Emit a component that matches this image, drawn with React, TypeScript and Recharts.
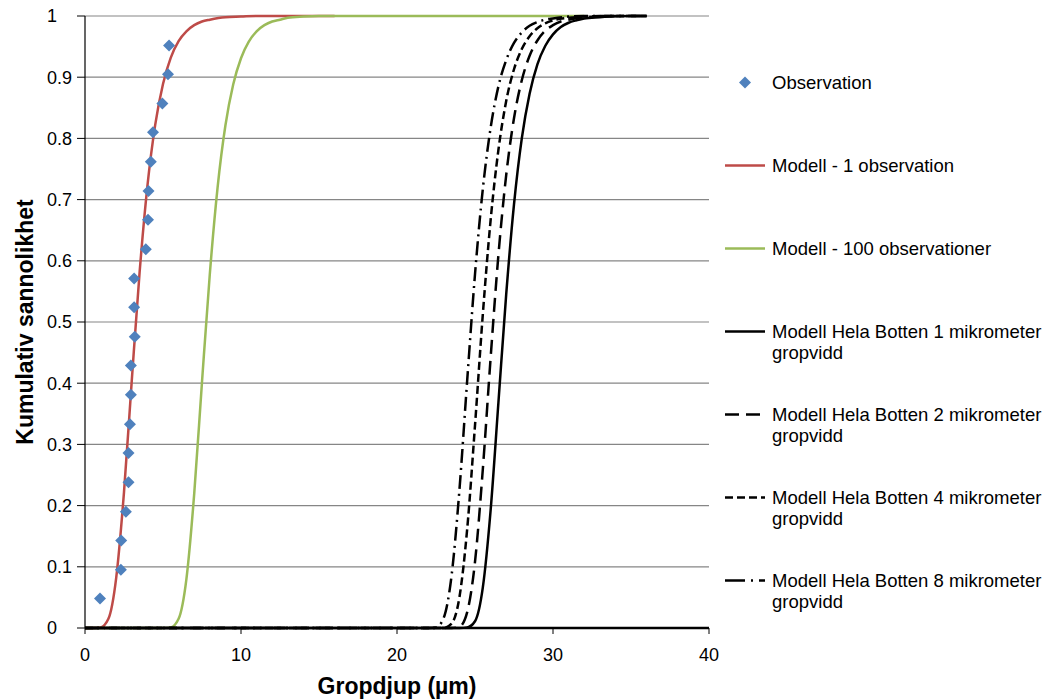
import {
  ComposedChart,
  Line,
  Scatter,
  XAxis,
  YAxis,
  CartesianGrid,
  Legend,
} from 'recharts';

// Observed pit depths (µm) and their cumulative probability
const obsDepth = [0.96, 2.3, 2.32, 2.62, 2.79, 2.79, 2.88, 2.94, 2.94, 3.19, 3.15, 3.15, 3.9, 4.04, 4.07, 4.22, 4.36, 4.96, 5.32, 5.39];
const obsProb = [0.048, 0.095, 0.143, 0.19, 0.238, 0.286, 0.333, 0.381, 0.429, 0.476, 0.524, 0.571, 0.619, 0.667, 0.714, 0.762, 0.81, 0.857, 0.905, 0.952];

// Modell - 1 observation
const m1Depth = [0, 0.5, 1, 1.5, 2, 2.5, 3, 3.5, 4, 4.5, 5, 5.5, 6, 6.5, 7, 7.5, 8, 9, 10, 11, 12, 16];
const m1Prob = [0, 0, 0.001, 0.015, 0.082, 0.222, 0.405, 0.581, 0.722, 0.822, 0.889, 0.932, 0.959, 0.975, 0.985, 0.991, 0.994, 0.998, 0.999, 1, 1, 1];

// Modell - 100 observationer
const m100Depth = [0, 5, 5.5, 6, 6.5, 7, 7.5, 8, 8.5, 9, 9.5, 10, 10.5, 11, 11.5, 12, 12.5, 13, 14, 15, 32];
const m100Prob = [0, 0, 0.001, 0.015, 0.08, 0.219, 0.402, 0.578, 0.72, 0.821, 0.888, 0.931, 0.958, 0.975, 0.985, 0.991, 0.994, 0.997, 0.999, 1, 1];

// Modell Hela Botten, 1 / 2 / 4 / 8 mikrometer gropvidd
const hb1Depth = [0, 24, 24.5, 25, 25.5, 26, 26.5, 27, 27.5, 28, 28.5, 29, 29.5, 30, 30.5, 31, 31.5, 32, 33, 34, 35, 36];
const hb1Prob = [0, 0, 0.001, 0.011, 0.066, 0.192, 0.368, 0.545, 0.692, 0.8, 0.873, 0.921, 0.951, 0.97, 0.982, 0.989, 0.993, 0.996, 0.998, 0.9995, 1, 1];

const hb2Depth = [0, 23.5, 24, 24.5, 25, 25.5, 26, 26.5, 27, 27.5, 28, 28.5, 29, 29.5, 30, 30.5, 31, 32, 33, 34, 36];
const hb2Prob = [0, 0, 0.002, 0.026, 0.108, 0.259, 0.441, 0.609, 0.74, 0.833, 0.895, 0.935, 0.96, 0.976, 0.985, 0.991, 0.994, 0.998, 0.999, 1, 1];

const hb4Depth = [0, 23, 23.5, 24, 24.5, 25, 25.5, 26, 26.5, 27, 27.5, 28, 28.5, 29, 29.5, 30, 31, 32, 33, 36];
const hb4Prob = [0, 0, 0.007, 0.05, 0.162, 0.331, 0.512, 0.666, 0.781, 0.861, 0.913, 0.946, 0.967, 0.98, 0.988, 0.993, 0.997, 0.999, 1, 1];

const hb8Depth = [0, 22, 22.5, 23, 23.5, 24, 24.5, 25, 25.5, 26, 26.5, 27, 27.5, 28, 28.5, 29, 29.5, 30, 31, 32, 36];
const hb8Prob = [0, 0, 0.001, 0.017, 0.086, 0.225, 0.405, 0.578, 0.717, 0.817, 0.885, 0.928, 0.956, 0.973, 0.984, 0.99, 0.994, 0.996, 0.999, 1, 1];

const xTicks = [0, 10, 20, 30, 40];
const yTicks = [0, 0.1, 0.2, 0.3, 0.4, 0.5, 0.6, 0.7, 0.8, 0.9, 1];

const toPoints = (xs: number[], ys: number[]) => xs.map((x, i) => ({ x, y: ys[i] }));

const FONT = 'Arial, "Liberation Sans", sans-serif';
const BLUE = '#4F81BD';
const RED = '#BE4B48';
const GREEN = '#9BBB59';

const legendItems = [
  { label: 'Observation', kind: 'marker', color: BLUE, dash: '' },
  { label: 'Modell - 1 observation', kind: 'line', color: RED, dash: '' },
  { label: 'Modell - 100 observationer', kind: 'line', color: GREEN, dash: '' },
  { label: 'Modell Hela Botten 1 mikrometer gropvidd', kind: 'line', color: '#000', dash: '' },
  { label: 'Modell Hela Botten 2 mikrometer gropvidd', kind: 'line', color: '#000', dash: '14 7' },
  { label: 'Modell Hela Botten 4 mikrometer gropvidd', kind: 'line', color: '#000', dash: '8 4' },
  { label: 'Modell Hela Botten 8 mikrometer gropvidd', kind: 'line', color: '#000', dash: '20 6 2 6' },
];

function ChartLegend() {
  return (
    <div style={{ fontFamily: FONT, fontSize: 18.5, color: '#000' }}>
      {legendItems.map((item) => (
        <div key={item.label} style={{ display: 'flex', alignItems: 'flex-start', height: 83 }}>
          <svg width={40} height={21} style={{ flex: 'none', marginRight: 7 }}>
            {item.kind === 'marker' ? (
              <polygon points="20,4.5 26,10.5 20,16.5 14,10.5" fill={item.color} />
            ) : (
              <line
                x1={0}
                y1={10.5}
                x2={40}
                y2={10.5}
                stroke={item.color}
                strokeWidth={2.5}
                strokeDasharray={item.dash || undefined}
              />
            )}
          </svg>
          <div style={{ lineHeight: '21px', width: 277 }}>{item.label}</div>
        </div>
      ))}
    </div>
  );
}

const Diamond = (props: any) => {
  const { cx, cy } = props;
  const r = 6;
  return (
    <polygon
      points={`${cx},${cy - r} ${cx + r},${cy} ${cx},${cy + r} ${cx - r},${cy}`}
      fill={BLUE}
    />
  );
};

const YTick = (props: any) => {
  const { y, payload } = props;
  return (
    <text x={47} y={y} dy="0.35em" textAnchor="start" fontFamily={FONT} fontSize={18} fill="#000">
      {payload.value}
    </text>
  );
};

const XTick = (props: any) => {
  const { x, y, payload } = props;
  return (
    <text x={x} y={y + 12} dy="0.71em" textAnchor="middle" fontFamily={FONT} fontSize={18} fill="#000">
      {payload.value}
    </text>
  );
};

export default function App() {
  return (
    <div style={{ position: 'absolute', left: 0, top: 0, width: 1049, height: 700, background: '#fff' }}>
      <ComposedChart width={1049} height={700} margin={{ top: 16, right: 340, bottom: 0, left: 0 }}>
        <CartesianGrid vertical={false} stroke="#868686" strokeWidth={1.2} />
        <XAxis
          type="number"
          dataKey="x"
          domain={[0, 40]}
          ticks={xTicks}
          height={72}
          tickSize={6}
          tick={<XTick />}
          axisLine={{ stroke: '#000', strokeWidth: 2.5 }}
          tickLine={{ stroke: '#000' }}
          label={{
            content: ({ viewBox }: any) => (
              <text
                x={viewBox.x + viewBox.width / 2}
                y={694}
                textAnchor="middle"
                fontFamily={FONT}
                fontSize={23}
                fontWeight="bold"
                fill="#000"
              >
                Gropdjup (µm)
              </text>
            ),
          }}
        />
        <YAxis
          type="number"
          dataKey="y"
          domain={[0, 1]}
          ticks={yTicks}
          width={85}
          tickSize={8}
          tick={<YTick />}
          axisLine={{ stroke: '#000', strokeWidth: 1.2 }}
          tickLine={{ stroke: '#000' }}
          label={{
            content: ({ viewBox }: any) => {
              const cy = viewBox.y + viewBox.height / 2;
              return (
                <text
                  x={25}
                  y={cy}
                  transform={`rotate(-90, 25, ${cy})`}
                  dy="0.35em"
                  textAnchor="middle"
                  fontFamily={FONT}
                  fontSize={23}
                  fontWeight="bold"
                  fill="#000"
                >
                  Kumulativ sannolikhet
                </text>
              );
            },
          }}
        />
        <Legend
          layout="vertical"
          align="center"
          verticalAlign="middle"
          content={<ChartLegend />}
          wrapperStyle={{ left: 725, top: 71.5, width: 324 }}
        />
        <Line
          data={toPoints(m1Depth, m1Prob)}
          dataKey="y"
          type="monotone"
          stroke={RED}
          strokeWidth={2.5}
          dot={false}
          isAnimationActive={false}
        />
        <Line
          data={toPoints(m100Depth, m100Prob)}
          dataKey="y"
          type="monotone"
          stroke={GREEN}
          strokeWidth={2.5}
          dot={false}
          isAnimationActive={false}
        />
        <Line
          data={toPoints(hb1Depth, hb1Prob)}
          dataKey="y"
          type="monotone"
          stroke="#000"
          strokeWidth={2.5}
          dot={false}
          isAnimationActive={false}
        />
        <Line
          data={toPoints(hb2Depth, hb2Prob)}
          dataKey="y"
          type="monotone"
          stroke="#000"
          strokeWidth={2.5}
          strokeDasharray="14 7"
          dot={false}
          isAnimationActive={false}
        />
        <Line
          data={toPoints(hb4Depth, hb4Prob)}
          dataKey="y"
          type="monotone"
          stroke="#000"
          strokeWidth={2.5}
          strokeDasharray="8 4"
          dot={false}
          isAnimationActive={false}
        />
        <Line
          data={toPoints(hb8Depth, hb8Prob)}
          dataKey="y"
          type="monotone"
          stroke="#000"
          strokeWidth={2.5}
          strokeDasharray="14 5 2 5"
          dot={false}
          isAnimationActive={false}
        />
        <Scatter
          data={toPoints(obsDepth, obsProb)}
          dataKey="y"
          fill={BLUE}
          shape={<Diamond />}
          isAnimationActive={false}
        />
      </ComposedChart>
    </div>
  );
}
